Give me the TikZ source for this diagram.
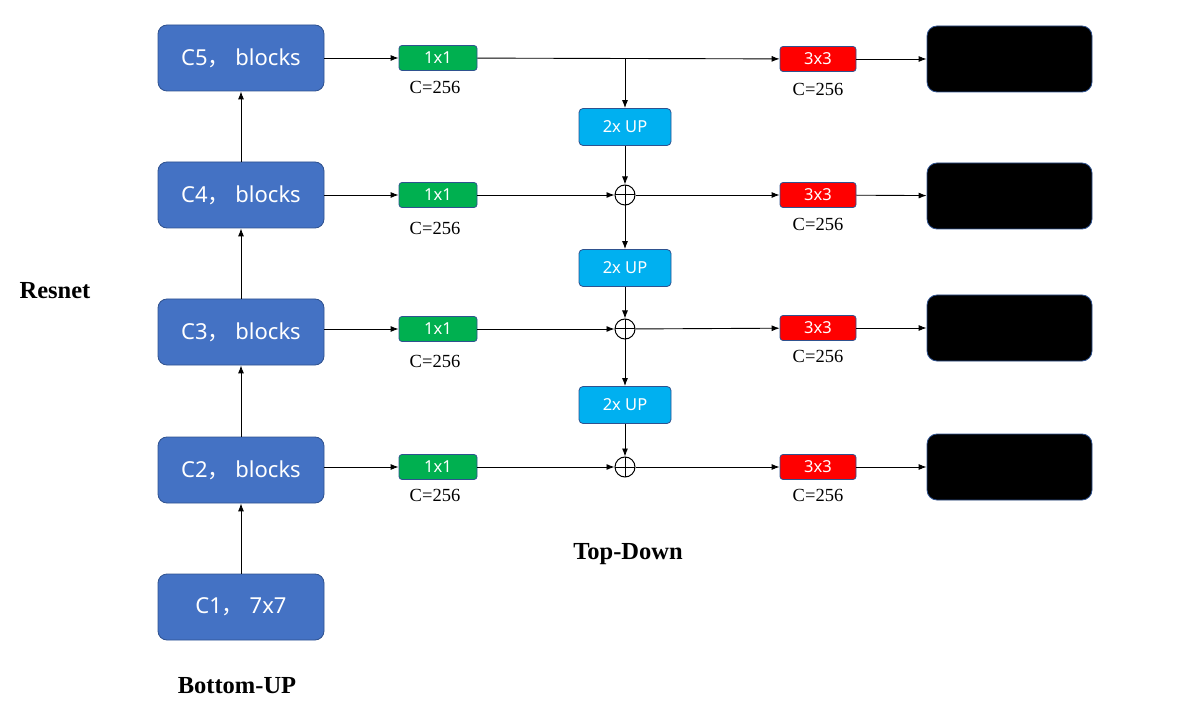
\documentclass[tikz,border=0pt]{standalone}
\usepackage{fontspec}
\setmainfont{Liberation Serif}
\newfontfamily\cjk{Noto Sans CJK SC}
\newfontfamily\boxfont{Noto Sans}
\newcommand{\cjkcomma}{{\cjk ，}}
\usetikzlibrary{arrows.meta}
\definecolor{bblue}{HTML}{4472C4}
\definecolor{bborder}{HTML}{2F528F}
\definecolor{ggreen}{HTML}{00B050}
\definecolor{rred}{HTML}{FF0000}
\definecolor{ccyan}{HTML}{00B0F0}
\tikzset{
  blk/.style={draw=bborder, fill=bblue, rounded corners=9pt, minimum width=166pt, minimum height=66pt, inner sep=0pt, text=white, font=\boxfont\fontsize{22}{22}\selectfont, line width=0.8pt},
  onebox/.style={draw=bborder, fill=ggreen, rounded corners=3pt, minimum width=78pt, minimum height=25pt, inner sep=0pt, text=white, font=\boxfont\fontsize{16.5}{16.5}\selectfont, line width=0.8pt},
  threebox/.style={onebox, fill=rred, minimum width=76pt},
  upbox/.style={draw=bborder, fill=ccyan, rounded corners=4pt, minimum width=92pt, minimum height=37pt, inner sep=0pt, text=white, font=\boxfont\fontsize{16.5}{16.5}\selectfont, line width=0.8pt},
  outbox/.style={draw=bborder, fill=black, rounded corners=10pt, minimum width=165pt, minimum height=66pt, inner sep=0pt, line width=0.8pt},
  addnode/.style={circle, draw, line width=1pt, minimum size=20pt, inner sep=0pt,
    path picture={\draw[line width=1pt] (path picture bounding box.north) -- (path picture bounding box.south) (path picture bounding box.west) -- (path picture bounding box.east);}},
  clabel/.style={font=\fontsize{18.5}{18.5}\selectfont, inner sep=0pt},
  title/.style={font=\bfseries\fontsize{24.5}{24.5}\selectfont, inner sep=0pt},
  arr/.style={-{Latex[length=8pt,width=6pt]}, line width=0.9pt},
  ln/.style={line width=0.9pt}
}
\begin{document}
\begin{tikzpicture}[x=1pt,y=-1pt]
\useasboundingbox (0,0) rectangle (1197,711);
% bottom-up blocks
\node[blk] (c5) at (241,58) {C5\cjkcomma\ blocks};
\node[blk] (c4) at (241,195) {C4\cjkcomma\ blocks};
\node[blk] (c3) at (241,332) {C3\cjkcomma\ blocks};
\node[blk] (c2) at (241,470) {C2\cjkcomma\ blocks};
\node[blk] (c1) at (241,607) {C1\cjkcomma\ 7x7};
% 1x1
\node[onebox] (g5) at (438,58) {1x1};
\node[onebox] (g4) at (438,195) {1x1};
\node[onebox] (g3) at (438,329) {1x1};
\node[onebox] (g2) at (438,467) {1x1};
\node[clabel] (lg5) at (435,87) {C=256};
\node[clabel] (lg4) at (435,228) {C=256};
\node[clabel] (lg3) at (435,361) {C=256};
\node[clabel] (lg2) at (435,495) {C=256};
% up
\node[upbox] (u4) at (625,127) {2x UP};
\node[upbox] (u3) at (625,268) {2x UP};
\node[upbox] (u2) at (625,405) {2x UP};
% adds
\node[addnode] (a4) at (625,195) {};
\node[addnode] (a3) at (625,329) {};
\node[addnode] (a2) at (625,467) {};
\coordinate (br) at (625,58);
% 3x3
\node[threebox] (r5) at (818,59) {3x3};
\node[threebox] (r4) at (818,195) {3x3};
\node[threebox] (r3) at (818,328) {3x3};
\node[threebox] (r2) at (818,467) {3x3};
\node[clabel] (lr5) at (818,89) {C=256};
\node[clabel] (lr4) at (818,224) {C=256};
\node[clabel] (lr3) at (818,356) {C=256};
\node[clabel] (lr2) at (818,495) {C=256};
% outputs
\node[outbox] (o5) at (1009.5,59) {};
\node[outbox] (o4) at (1009.5,196) {};
\node[outbox] (o3) at (1009.5,328) {};
\node[outbox] (o2) at (1009.5,467) {};
% titles
\node[title] (tres) at (55,291) {Resnet};
\node[title] (ttd) at (628,554) {Top-Down};
\node[title] (tbu) at (237,686) {Bottom-UP};
% connectors
\draw[arr] (c1) -- (c2);
\draw[arr] (c2) -- (c3);
\draw[arr] (c3) -- (c4);
\draw[arr] (c4) -- (c5);
\draw[arr] (c5) -- (g5);
\draw[arr] (c4) -- (g4);
\draw[arr] (c3.east |- g3) -- (g3);
\draw[arr] (c2.east |- g2) -- (g2);
\draw[arr] (g5) -- (r5);
\draw[arr] (br) -- (u4);
\draw[arr] (u4) -- (a4);
\draw[arr] (a4) -- (u3);
\draw[arr] (u3) -- (a3);
\draw[arr] (a3) -- (u2);
\draw[arr] (u2) -- (a2);
\draw[arr] (g4) -- (a4);
\draw[arr] (g3) -- (a3);
\draw[arr] (g2) -- (a2);
\draw[arr] (a4) -- (r4);
\draw[arr] (a3) -- (r3);
\draw[arr] (a2) -- (r2);
\draw[arr] (r5) -- (o5);
\draw[arr] (r4) -- (o4);
\draw[arr] (r3) -- (o3);
\draw[arr] (r2) -- (o2);
\end{tikzpicture}
\end{document}
